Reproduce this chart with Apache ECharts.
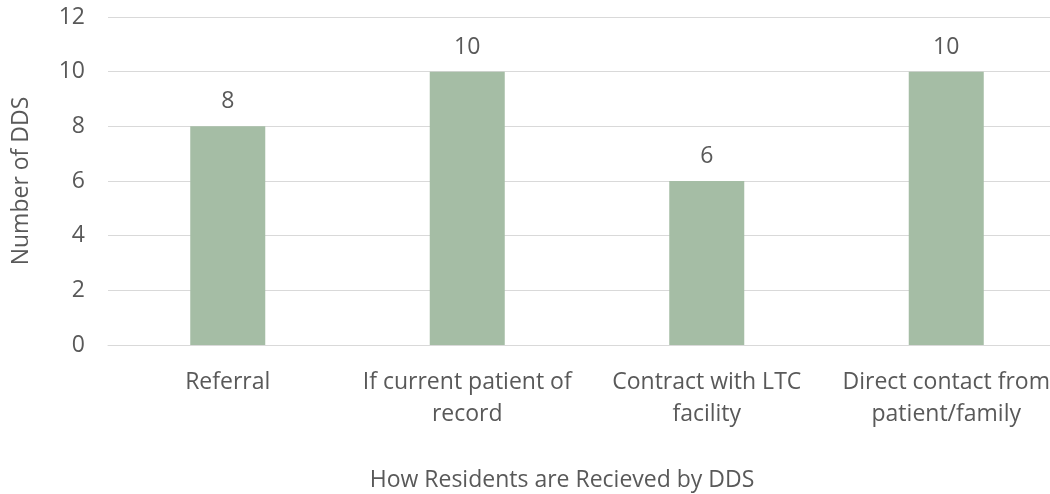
<!DOCTYPE html>
<html>
<head>
<meta charset="utf-8">
<script src="https://cdn.jsdelivr.net/npm/echarts@6/dist/echarts.min.js"></script>
<style>
html,body{margin:0;padding:0;background:#fff;}
#wrap{position:relative;width:1050px;height:494px;overflow:hidden;}
#chart{position:absolute;left:0;top:0;width:1066px;height:494px;}
</style>
</head>
<body>
<div id="wrap"><div id="chart"></div></div>
<script>
const categories = ["Referral", "If current patient of\nrecord", "Contract with LTC\nfacility", "Direct contact from\npatient/family"];
const values = [8, 10, 6, 10];
const yTicks = [0, 2, 4, 6, 8, 10, 12];
const xTitle = "How Residents are Recieved by DDS";
const yTitle = "Number of DDS";

const font = "Open Sans";
const txt = "#595959";
const chart = echarts.init(document.getElementById('chart'));
chart.setOption({
  animation: false,
  grid: {left: 108, top: 17, bottom: 149, right: 0, containLabel: false, outerBoundsMode: 'none'},
  xAxis: {
    type: 'category',
    data: categories,
    axisLine: {lineStyle: {color: '#D9D9D9', width: 1}},
    axisTick: {show: false},
    axisLabel: {interval: 0, hideOverlap: false, color: txt, fontFamily: font, fontSize: 23, margin: 21, lineHeight: 32},
    name: xTitle,
    nameLocation: 'middle',
    nameMoveOverlap: false,
    nameGap: 124,
    nameTextStyle: {color: txt, fontFamily: font, fontSize: 23, padding: [0, 50, 0, 0]}
  },
  yAxis: {
    type: 'value',
    min: yTicks[0],
    max: yTicks[yTicks.length - 1],
    interval: 2,
    axisLine: {show: false},
    axisTick: {show: false},
    splitLine: {lineStyle: {color: '#D9D9D9', width: 1}},
    axisLabel: {color: txt, fontFamily: font, fontSize: 23, margin: 23, padding: [6, 0, 0, 0]},
    name: yTitle,
    nameLocation: 'middle',
    nameMoveOverlap: false,
    nameGap: 75,
    nameTextStyle: {color: txt, fontFamily: font, fontSize: 23}
  },
  series: [{
    type: 'bar',
    data: values,
    barWidth: 75,
    itemStyle: {color: '#A5BDA5'},
    label: {show: true, position: 'top', distance: 13, color: txt, fontFamily: font, fontSize: 23}
  }]
});
</script>
</body>
</html>
